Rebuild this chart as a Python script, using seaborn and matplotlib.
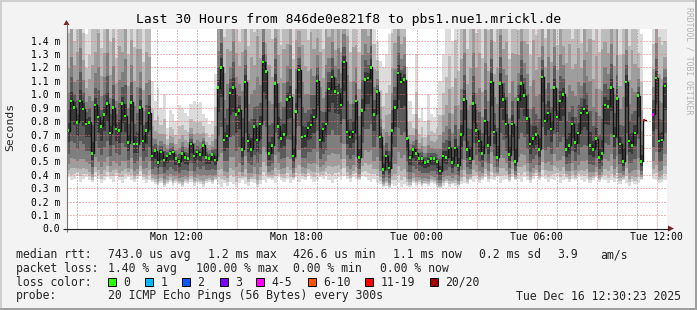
import numpy as np
import pandas as pd
import matplotlib
matplotlib.use("Agg")
import matplotlib.pyplot as plt
import seaborn as sns
from matplotlib.patches import Rectangle, Polygon

# ---------------- data ----------------
start_hour = 6.5          # Mon 06:30, hours since Mon 00:00
step_hours = 0.15         # one column = 9 minutes

median_ms = [
    0.73, 0.95, 0.90, 0.79, 0.95, 0.89, 0.78, 0.79, 0.56, 0.92,
    0.83, 0.76, 0.85, 0.93, 0.71, 0.90, 0.74, 0.73, 0.93, 0.84,
    0.64, 0.94, 0.63, 0.63, 0.90, 0.65, 0.73, 0.86, 0.54, 0.58,
    0.49, 0.57, 0.51, 0.54, 0.56, 0.57, 0.52, 0.50, 0.56, 0.53,
    0.52, 0.63, 0.54, 0.57, 0.55, 0.62, 0.53, 0.52, 0.55, 0.51,
    1.05, 1.20, 0.66, 0.69, 1.01, 1.05, 0.85, 0.88, 0.59, 1.09,
    0.65, 0.59, 0.76, 0.66, 0.78, 1.24, 1.17, 0.56, 0.62, 1.08,
    0.76, 0.67, 0.70, 0.96, 0.98, 0.54, 0.87, 1.18, 0.68, 0.69,
    0.75, 0.77, 0.83, 1.10, 0.66, 0.74, 0.78, 1.04, 1.13, 1.02,
    1.01, 0.92, 1.24, 0.72, 0.68, 0.72, 0.95, 0.53, 0.88, 1.11,
    1.12, 1.20, 0.85, 1.02, 0.68, 0.44, 0.54, 0.45, 0.73, 0.90,
    1.16, 1.09, 1.11, 0.67, 0.53, 0.59, 0.56, 0.52, 0.52, 0.49,
    0.50, 0.52, 0.52, 0.50, 0.43, 0.54, 0.53, 0.60, 0.49, 0.60,
    0.47, 0.70, 0.96, 0.59, 0.52, 0.93, 0.73, 0.65, 0.56, 0.80,
    0.62, 1.09, 0.72, 0.53, 1.08, 0.96, 0.78, 0.55, 0.78, 0.50,
    0.96, 1.08, 0.99, 0.82, 0.63, 0.67, 0.70, 0.59, 1.13, 0.80,
    0.86, 0.74, 1.05, 0.83, 0.95, 1.00, 0.59, 0.62, 0.78, 0.64,
    0.71, 0.86, 0.89, 0.86, 0.62, 0.59, 0.67, 0.53, 0.56, 0.92,
    0.91, 1.05, 0.69, 0.97, 0.63, 0.50, 1.09, 0.65, 0.62, 0.71,
    0.99, 0.50, 0.81, np.nan, np.nan, 0.85, 1.12, 0.65, 0.66, 1.06,
]

smoke_lo_ms = [
    0.38, 0.36, 0.37, 0.39, 0.35, 0.37, 0.38, 0.36, 0.35, 0.38,
    0.37, 0.34, 0.36, 0.38, 0.37, 0.35, 0.39, 0.36, 0.34, 0.37,
    0.38, 0.36, 0.35, 0.37, 0.39, 0.36, 0.34, 0.36, 0.35, 0.33,
    0.32, 0.34, 0.31, 0.33, 0.35, 0.32, 0.34, 0.33, 0.31, 0.34,
    0.33, 0.35, 0.32, 0.34, 0.33, 0.31, 0.34, 0.35, 0.33, 0.36,
    0.33, 0.31, 0.34, 0.32, 0.35, 0.33, 0.31, 0.34, 0.36, 0.33,
    0.32, 0.35, 0.34, 0.31, 0.33, 0.36, 0.34, 0.37, 0.36, 0.34,
    0.38, 0.36, 0.35, 0.37, 0.34, 0.36, 0.38, 0.35, 0.37, 0.36,
    0.39, 0.37, 0.35, 0.36, 0.38, 0.37, 0.39, 0.36, 0.34, 0.37,
    0.38, 0.36, 0.39, 0.37, 0.35, 0.38, 0.37, 0.36, 0.39, 0.38,
    0.36, 0.35, 0.37, 0.34, 0.33, 0.31, 0.32, 0.30, 0.33, 0.32,
    0.34, 0.31, 0.33, 0.32, 0.31, 0.34, 0.32, 0.33, 0.31, 0.33,
    0.32, 0.34, 0.33, 0.31, 0.30, 0.32, 0.34, 0.31, 0.33, 0.32,
    0.31, 0.33, 0.34, 0.33, 0.36, 0.35, 0.37, 0.34, 0.36, 0.38,
    0.35, 0.37, 0.36, 0.38, 0.34, 0.36, 0.37, 0.35, 0.38, 0.36,
    0.37, 0.35, 0.38, 0.36, 0.34, 0.37, 0.39, 0.36, 0.38, 0.37,
    0.35, 0.37, 0.36, 0.38, 0.34, 0.36, 0.37, 0.35, 0.37, 0.36,
    0.38, 0.36, 0.35, 0.37, 0.34, 0.36, 0.38, 0.35, 0.37, 0.36,
    0.34, 0.36, 0.35, 0.37, 0.33, 0.36, 0.34, 0.32, 0.35, 0.33,
    0.34, 0.36, 0.38, np.nan, np.nan, 0.37, 0.36, 0.34, 0.35, 0.36,
]

smoke_hi_ms = [
    1.9, 2.3, 1.7, 2.1, 2.6, 1.8, 1.45, 1.6, 2.2, 1.9,
    2.4, 1.7, 2.0, 2.5, 1.8, 2.2, 1.6, 2.3, 1.9, 2.6,
    1.7, 2.1, 1.8, 2.4, 2.0, 1.6, 2.2, 1.9, 1.10, 0.95,
    1.05, 0.90, 1.00, 0.75, 0.88, 0.85, 0.80, 0.92, 0.90, 0.86,
    0.84, 0.93, 0.95, 0.93, 0.94, 0.85, 0.82, 0.78, 0.80, 1.15,
    2.2, 2.6, 1.9, 2.3, 1.8, 2.5, 2.0, 1.7, 2.4, 2.1,
    1.8, 2.3, 1.9, 2.6, 2.0, 2.4, 1.7, 2.2, 1.9, 2.5,
    2.1, 1.8, 2.3, 2.0, 2.6, 1.7, 2.2, 1.9, 2.4, 2.0,
    1.8, 2.5, 2.1, 1.9, 2.3, 1.7, 2.6, 2.0, 2.2, 1.8,
    2.4, 1.9, 2.1, 2.5, 1.7, 2.3, 2.0, 1.8, 2.6, 2.2,
    1.9, 2.4, 1.7, 1.40, 1.25, 1.20, 1.30, 1.45, 1.9, 2.1,
    2.3, 1.8, 1.9, 1.20, 0.95, 0.85, 1.30, 0.82, 0.90, 0.80,
    1.00, 0.85, 0.83, 0.90, 1.10, 1.30, 1.50, 1.70, 1.40, 1.9,
    1.6, 2.1, 2.4, 1.8, 2.2, 2.5, 1.9, 2.3, 1.7, 2.6,
    2.0, 2.4, 1.8, 2.2, 2.6, 1.9, 2.3, 1.7, 2.1, 2.5,
    1.8, 2.4, 2.0, 2.2, 1.7, 2.5, 1.9, 2.3, 2.1, 1.8,
    2.6, 2.0, 2.3, 1.7, 2.4, 1.9, 2.2, 2.5, 1.8, 2.1,
    2.3, 1.7, 2.4, 2.0, 2.6, 1.9, 2.2, 1.8, 2.5, 2.1,
    1.9, 2.4, 2.0, 2.3, 1.7, 2.5, 2.1, 1.8, 2.4, 2.0,
    1.5, 1.45, 1.5, np.nan, np.nan, 1.7, 2.2, 1.9, 1.8, 1.6,
]

# packet loss (pings lost of 20) for the columns that were not loss-free
loss_steps = [192, 193, 194, 195]
loss_counts = [15, 20, 20, 5]

y_ticks = [0.0, 0.1, 0.2, 0.3, 0.4, 0.5, 0.6, 0.7, 0.8, 0.9, 1.0, 1.1, 1.2, 1.3, 1.4]
y_tick_labels = ["0.0", "0.1 m", "0.2 m", "0.3 m", "0.4 m", "0.5 m", "0.6 m", "0.7 m",
                 "0.8 m", "0.9 m", "1.0 m", "1.1 m", "1.2 m", "1.3 m", "1.4 m"]
x_ticks = [12, 18, 24, 30, 36]
x_tick_labels = ["Mon 12:00", "Mon 18:00", "Tue 00:00", "Tue 06:00", "Tue 12:00"]

loss_names = ["0", "1", "2", "3", "4-5", "6-10", "11-19", "20/20"]
loss_upper = [0, 1, 2, 3, 5, 10, 19, 20]
loss_colors = ["#26ff00", "#00b8ff", "#0059ff", "#7e00ff", "#ff00ff", "#ff5500", "#ff0000", "#a10000"]

title = "Last 30 Hours from 846de0e821f8 to pbs1.nue1.mrickl.de"
rtt_items = ["743.0 us avg", "1.2 ms max", "426.6 us min", "1.1 ms now", "0.2 ms sd", "3.9", "am/s"]
loss_items = ["1.40 % avg", "100.00 % max", "0.00 % min", "0.00 % now"]
probe_text = "20 ICMP Echo Pings (56 Bytes) every 300s"
stamp_text = "Tue Dec 16 12:30:23 2025"

# ---------------- styling ----------------
sns.set_style("white")
plt.rcParams["font.family"] = ["DejaVu Sans Mono", "DejaVu Sans"]
MONO = "DejaVu Sans Mono"

W, H = 697, 310
fig = plt.figure(figsize=(W / 100, H / 100), dpi=100, facecolor="#f3f3f3")

L, R, T, B = 66.5, 666.5, 28.5, 228.5
ax = fig.add_axes([L / W, 1 - B / H, (R - L) / W, (B - T) / H])
ax.set_facecolor("white")
for s in ax.spines.values():
    s.set_visible(False)

n = len(median_ms)
med = np.array(median_ms, dtype=float)
lo = np.array(smoke_lo_ms, dtype=float)
hi = np.array(smoke_hi_ms, dtype=float)
x_edges = start_hour + step_hours * np.arange(n + 1)

def ext(a):
    return np.append(a, a[-1])

# smoke: layered bands between the extremes and the median
f_up = [1.0, 0.62, 0.40, 0.24, 0.13, 0.05]
f_lo = [1.0, 0.93, 0.85, 0.72, 0.50, 0.25]
smoke_cols = ["#dcdcdc", "#bcbcbc", "#9e9e9e", "#7e7e7e", "#5a5a5a", "#383838"]
for fu, fl, c in zip(f_up, f_lo, smoke_cols):
    lower = med - fl * (med - lo)
    upper = med + fu * (hi - med)
    ax.fill_between(x_edges, ext(lower), ext(upper), step="post", color=c,
                    lw=0, antialiased=False, zorder=1)

# median trace (dark connectors) and loss-coloured median marks
ax.plot(x_edges, ext(med), drawstyle="steps-post", color="#141414", lw=1.0, zorder=3)

loss = np.zeros(n, dtype=int)
for st, cnt in zip(loss_steps, loss_counts):
    loss[st] = cnt

def loss_name(c):
    for nm, up in zip(loss_names, loss_upper):
        if c <= up:
            return nm
    return loss_names[-1]

df = pd.DataFrame({
    "time": start_hour + step_hours * (np.arange(n) + 0.5),
    "median": med,
    "loss": [loss_name(c) for c in loss],
}).dropna()
sns.scatterplot(data=df, x="time", y="median", hue="loss",
                palette=dict(zip(loss_names, loss_colors)), marker="s", s=3.2,
                linewidth=0, legend=False, ax=ax, zorder=4)

ax.set_xlim(start_hour, start_hour + step_hours * n)
ax.set_ylim(0, 1.49)

# grid
major_x = np.arange(9, 37, 3)
ax.set_xticks(major_x)
ax.set_xticklabels([x_tick_labels[x_ticks.index(v)] if v in x_ticks else "" for v in major_x])
ax.set_xticks(np.arange(7, 37, 1), minor=True)
ax.set_yticks(y_ticks)
ax.set_yticklabels(y_tick_labels)
ax.set_axisbelow(False)
ax.grid(which="major", axis="both", color=(0.93, 0.45, 0.45, 0.55), lw=0.72, ls=(0, (1, 2)))
ax.grid(which="minor", axis="x", color=(0.55, 0.55, 0.55, 0.6), lw=0.72, ls=(0, (1, 2)))
ax.tick_params(axis="both", which="both", length=0, labelsize=7, colors="black")
ax.tick_params(axis="x", pad=2.2)
ax.tick_params(axis="y", pad=4.7)
for lab in ax.get_xticklabels() + ax.get_yticklabels():
    lab.set_family(MONO)
ax.set_xlabel("")
ax.set_ylabel("")

# ---------------- overlay in pixel coordinates ----------------
fa = fig.add_axes([0, 0, 1, 1], facecolor="none")
fa.set_xlim(0, W)
fa.set_ylim(H, 0)
fa.axis("off")

# 3-D frame
fa.add_patch(Rectangle((0, 0), W, 2, color="#cfcfcf", lw=0))
fa.add_patch(Rectangle((0, 0), 2, H, color="#cfcfcf", lw=0))
fa.add_patch(Rectangle((0, H - 2), W, 2, color="#9e9e9e", lw=0))
fa.add_patch(Rectangle((W - 2, 0), 2, H, color="#9e9e9e", lw=0))

# axes with arrows
fa.plot([L, L], [B + 3, 24], color="#777777", lw=0.8, solid_capstyle="butt")
fa.plot([63, 669], [B, B], color="#1f1f1f", lw=0.8, solid_capstyle="butt")
fa.add_patch(Polygon([[L - 3, 25], [L + 3, 25], [L, 20]], closed=True, color="#7f1f1f", lw=0))
fa.add_patch(Polygon([[668, B - 3], [668, B + 3], [674, B]], closed=True, color="#7f1f1f", lw=0))

fa.text(348.5, 19, title, ha="center", va="center", fontsize=9.4, family=MONO, color="black")
fa.text(10.5, 127, "Seconds", rotation=90, ha="center", va="center", fontsize=8.2, family=MONO)
fa.text(688.5, 61, "RRDTOOL / TOBI OETIKER", rotation=270, ha="center", va="center",
        fontsize=5.9, family=MONO, color="#b4b4b4")

fs = 8.3
y1, y2, y3, y4 = 254.7, 268.3, 282.3, 296.0
fa.text(16, y1, "median rtt:", va="center", fontsize=fs, family=MONO)
for txt, xx in zip(rtt_items, [107.6, 207.6, 293.3, 392.9, 479.0, 557.0, 600.0]):
    fa.text(xx, y1, txt, va="center", fontsize=fs, family=MONO)
fa.text(16, y2, "packet loss:", va="center", fontsize=fs, family=MONO)
for txt, xx in zip(loss_items, [107.6, 195.6, 293.3, 380.0]):
    fa.text(xx, y2, txt, va="center", fontsize=fs, family=MONO)
fa.text(16, y3, "loss color:", va="center", fontsize=fs, family=MONO)
box_x = [108.4, 145.3, 182.2, 219.6, 256.4, 307.6, 365.3, 430.2]
for bx, nm, c in zip(box_x, loss_names, loss_colors):
    fa.add_patch(Rectangle((bx, y3 - 4), 8, 8, facecolor=c, edgecolor="black", lw=0.7))
    fa.text(bx + 15.2, y3, nm, va="center", fontsize=fs, family=MONO)
fa.text(16, y4, "probe:", va="center", fontsize=fs, family=MONO)
fa.text(107.6, y4, probe_text, va="center", fontsize=fs, family=MONO)
fa.text(680.5, y4, stamp_text, va="center", ha="right", fontsize=fs, family=MONO)

fig.savefig("out.png", dpi=100, facecolor=fig.get_facecolor())
